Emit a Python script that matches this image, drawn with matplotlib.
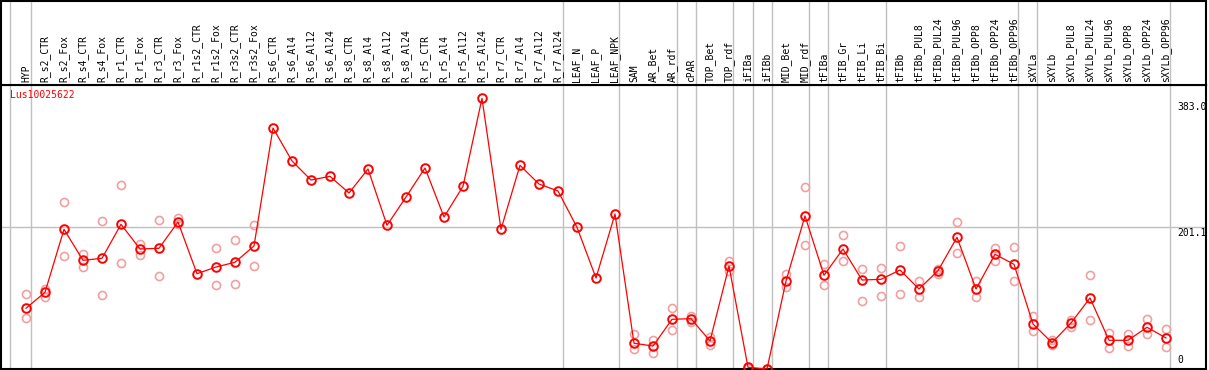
import matplotlib
matplotlib.use("Agg")
import matplotlib.pyplot as plt
import numpy as np

labels = ["HYP", "R_s2_CTR", "R_s2_Fox", "R_s4_CTR", "R_s4_Fox", "R_r1_CTR", "R_r1_Fox",
          "R_r3_CTR", "R_r3_Fox", "R_r1s2_CTR", "R_r1s2_Fox", "R_r3s2_CTR", "R_r3s2_Fox",
          "R_s6_CTR", "R_s6_Al4", "R_s6_Al12", "R_s6_Al24", "R_s8_CTR", "R_s8_Al4",
          "R_s8_Al12", "R_s8_Al24", "R_r5_CTR", "R_r5_Al4", "R_r5_Al12", "R_r5_Al24",
          "R_r7_CTR", "R_r7_Al4", "R_r7_Al12", "R_r7_Al24", "LEAF_N", "LEAF_P", "LEAF_NPK",
          "SAM", "AR_Bet", "AR_rdf", "cPAR", "TOP_Bet", "TOP_rdf", "iFIBa", "iFIBb",
          "MID_Bet", "MID_rdf", "tFIBa", "tFIB_Gr", "tFIB_Li", "tFIB_Bi", "tFIBb",
          "tFIBb_PUL8", "tFIBb_PUL24", "tFIBb_PUL96", "tFIBb_OPP8", "tFIBb_OPP24",
          "tFIBb_OPP96", "sXYLa", "sXYLb", "sXYLb_PUL8", "sXYLb_PUL24", "sXYLb_PUL96",
          "sXYLb_OPP8", "sXYLb_OPP24", "sXYLb_OPP96"]

mean_values = [85.9, 108.5, 197.6, 153.8, 156.6, 204.7, 169.8, 170.8, 208.0, 134.8,
               144.3, 151.0, 174.0, 341.0, 294.3, 267.4, 272.6, 249.0, 283.0, 203.3,
               243.3, 284.4, 215.0, 258.5, 383.0, 197.6, 288.2, 261.7, 251.8, 200.5,
               128.7, 219.3, 36.4, 32.5, 70.3, 71.2, 39.6, 145.7, 2.4, 0.0,
               124.5, 216.5, 132.6, 169.8, 125.9, 126.9, 140.1, 113.2, 139.1, 186.3,
               113.2, 162.3, 148.1, 63.7, 37.2, 65.1, 100.5, 40.6, 40.6, 59.0, 43.9]

rep1_values = [106.1, 113.2, 235.8, 163.1, 209.4, 259.9, 177.3, 210.8, 214.1, None,
               170.8, 182.1, 203.7, None, None, None, None, None, None, None,
               None, None, None, None, None, None, None, None, None, None,
               None, None, 49.1, 40.6, 85.9, 75.4, 45.3, 152.8, 3.5, 0.5,
               134.4, 257.5, 148.1, 189.2, 141.9, 142.9, 173.6, 124.1, 141.9, 208.0,
               124.5, 171.2, 172.6, 75.4, 41.0, 68.9, 132.6, 51.4, 49.9, 71.2, 56.6]

rep2_values = [71.7, 102.3, 159.9, 143.9, 104.7, 150.0, 161.7, 131.6, 205.0, None,
               118.4, 120.3, 145.3, None, None, None, None, None, None, None,
               None, None, None, None, None, None, None, None, None, None,
               None, None, 27.9, 22.2, 54.8, 66.9, 34.4, 139.1, 1.0, 0.0,
               115.6, 175.0, 118.4, 152.4, 95.8, 103.3, 106.1, 101.4, 134.4, 163.7,
               101.4, 152.4, 124.5, 53.3, 34.0, 59.8, 68.9, 29.3, 32.1, 49.1, 31.1]

group_lines = [-0.84, 0.25, 28.26, 31.23, 34.25, 35.25, 37.23, 38.25, 39.25,
               41.23, 42.23, 45.25, 52.23, 53.23, 60.2]
gene_name = "Lus10025622"
y_max_label = "383.0"
y_mid_label = "201.1"
y_mid = 201.1

W, H = 1209, 370
fig = plt.figure(figsize=(W / 100, H / 100), dpi=100)
mono = "DejaVu Sans Mono"
grey = "#c0c0c0"
red = "#ff0000"
pink = "#f0a0a0"

x = np.arange(len(labels))
xlim = (-25 / 19, 1180 / 19)
k = 1.4148
ylim = (0, 284 * k)

# plot axes
ax = fig.add_axes([1 / W, 1 / H, 1205 / W, 284 / H])
ax.set_xlim(*xlim)
ax.set_ylim(*ylim)
for gl in group_lines:
    ax.axvline(gl, color=grey, lw=1.0, zorder=1)
ax.axhline(y_mid, color=grey, lw=1.0, zorder=1)

r1x = [i for i, v in enumerate(rep1_values) if v is not None]
r1y = [v for v in rep1_values if v is not None]
r2x = [i for i, v in enumerate(rep2_values) if v is not None]
r2y = [v for v in rep2_values if v is not None]
ax.plot(r1x, r1y, ls="none", marker="o", ms=5.8, mfc="none", mec=pink, mew=1.2, zorder=2)
ax.plot(r2x, r2y, ls="none", marker="o", ms=5.8, mfc="none", mec=pink, mew=1.2, zorder=2)
ax.plot(x, mean_values, color=red, lw=0.9, marker="o", ms=6.2, mfc="none", mec=red,
        mew=1.4, zorder=3)

ax.set_xticks([])
ax.set_yticks([])
for s in ax.spines.values():
    s.set_color("black")
    s.set_linewidth(1.5)

ax.text(-0.84, 1 - 5 / 284, gene_name, transform=ax.get_xaxis_transform(),
        color=red, family=mono, fontsize=7, ha="left", va="top")
ax.text(60.6, 383.0 - 5, y_max_label, color="black", family=mono, fontsize=7,
        ha="left", va="top")
ax.text(60.6, y_mid - 1, y_mid_label, color="black", family=mono, fontsize=7,
        ha="left", va="top")
ax.text(60.6, 5, "0", color="black", family=mono, fontsize=7, ha="left", va="bottom")

# label axes
lax = fig.add_axes([1 / W, 285 / H, 1205 / W, 84 / H])
lax.set_xlim(*xlim)
lax.set_ylim(0, 84)
for gl in group_lines:
    lax.axvline(gl, color=grey, lw=1.0, zorder=1)
for i, lab in enumerate(labels):
    lax.text(i, 3, lab, rotation=90, ha="center", va="bottom", family=mono,
             fontsize=7, color="black", zorder=3)
lax.set_xticks([])
lax.set_yticks([])
for s in lax.spines.values():
    s.set_color("black")
    s.set_linewidth(1.5)

fig.savefig("out.png", dpi=100)
